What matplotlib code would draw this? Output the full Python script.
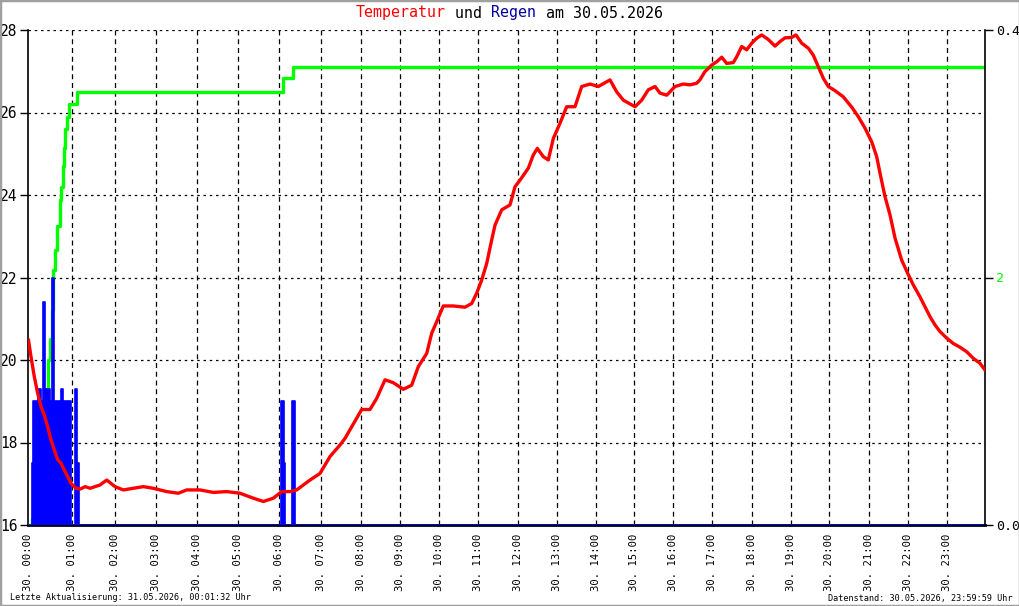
import numpy as np
import matplotlib
matplotlib.use("Agg")
import matplotlib.pyplot as plt
from matplotlib.patches import Rectangle

# temperature (hours, degC)
temp_h = [0.0, 0.057, 0.132, 0.21, 0.285, 0.36, 0.438, 0.514, 0.589, 0.667,
          0.742, 0.817, 0.895, 0.97, 1.087, 1.18, 1.304, 1.415, 1.649, 1.806,
          2.0, 2.204, 2.45, 2.696, 2.942, 3.264, 3.543, 3.745, 4.066, 4.39,
          4.717, 5.041, 5.366, 5.61, 5.854, 6.058, 6.258, 6.42, 6.742, 6.983,
          7.233, 7.483, 7.608, 7.9, 8.025, 8.235, 8.404, 8.614, 8.823, 9.078,
          9.297, 9.469, 9.688, 9.818, 9.948, 10.116, 10.369, 10.664, 10.833, 10.96,
          11.086, 11.213, 11.34, 11.424, 11.594, 11.805, 11.931, 12.059, 12.272, 12.4,
          12.503, 12.656, 12.785, 12.913, 13.085, 13.256, 13.469, 13.554, 13.641, 13.854,
          14.067, 14.37, 14.544, 14.715, 15.018, 15.19, 15.359, 15.531, 15.659, 15.831,
          16.044, 16.256, 16.428, 16.6, 16.682, 16.81, 16.985, 17.112, 17.239, 17.365,
          17.533, 17.619, 17.746, 17.873, 18.0, 18.128, 18.256, 18.426, 18.597, 18.726,
          18.854, 19.026, 19.137, 19.285, 19.456, 19.585, 19.715, 19.845, 19.974, 20.145,
          20.355, 20.569, 20.736, 20.906, 21.077, 21.205, 21.29, 21.418, 21.546, 21.674,
          21.846, 22.0, 22.144, 22.315, 22.444, 22.572, 22.7, 22.828, 23.0, 23.172,
          23.347, 23.522, 23.695, 23.869, 23.99]
temp_c = [20.48, 20.08, 19.6, 19.19, 18.87, 18.67, 18.38, 18.06, 17.82, 17.58,
          17.5, 17.33, 17.17, 17.01, 16.89, 16.87, 16.93, 16.89, 16.97, 17.09,
          16.93, 16.85, 16.89, 16.93, 16.89, 16.81, 16.77, 16.85, 16.85, 16.79,
          16.81, 16.77, 16.65, 16.57, 16.65, 16.81, 16.81, 16.85, 17.09, 17.25,
          17.66, 17.94, 18.10, 18.59, 18.8, 18.8, 19.07, 19.52, 19.45, 19.29,
          19.39, 19.84, 20.16, 20.65, 20.93, 21.31, 21.31, 21.28, 21.37, 21.62,
          21.94, 22.34, 22.91, 23.27, 23.64, 23.76, 24.2, 24.36, 24.65, 24.97,
          25.13, 24.93, 24.85, 25.37, 25.74, 26.14, 26.14, 26.38, 26.63, 26.69,
          26.63, 26.79, 26.5, 26.3, 26.14, 26.3, 26.55, 26.63, 26.47, 26.42,
          26.63, 26.69, 26.67, 26.71, 26.79, 26.99, 27.15, 27.23, 27.34, 27.19,
          27.21, 27.35, 27.6, 27.52, 27.68, 27.8, 27.88, 27.77, 27.61, 27.72,
          27.81, 27.82, 27.88, 27.68, 27.56, 27.39, 27.11, 26.83, 26.63, 26.53,
          26.38, 26.13, 25.9, 25.62, 25.29, 24.93, 24.53, 23.96, 23.52, 22.96,
          22.42, 22.1, 21.82, 21.53, 21.29, 21.05, 20.85, 20.69, 20.53, 20.4,
          20.31, 20.2, 20.04, 19.92, 19.77]

# rain per interval (start minute, mm), held until next entry
rain_min = [0, 4.8, 6.2, 13.4, 17.1, 20.3, 23, 24.5, 26, 29.5, 32.2, 35.3, 44.5,
            47.7, 58.2, 63.8, 66.6, 69.4, 362.5, 366.3, 368.2, 378.4, 382.3, 1440]
rain_mm = [0, 0.05, 0.1, 0.11, 0.1, 0.18, 0.11, 0.1, 0.11, 0.1, 0.2, 0.1, 0.11,
           0.1, 0, 0.11, 0.05, 0, 0.1, 0.05, 0, 0.1, 0, 0]

# rain sum (start minute, mm)
sum_min = [0, 4.8, 10, 15, 20, 24.9, 27.1, 29.5, 31.8, 34.0, 36.3, 39.7, 43.2,
           44.5, 46.8, 48.6, 50.0, 52.3, 55.9, 66.2, 364.9, 379.4, 1440]
sum_mm = [0, 0.05, 0.3, 0.55, 0.8, 1.1, 1.33, 1.5, 1.74, 2.06, 2.22, 2.42, 2.63,
          2.73, 2.9, 3.05, 3.2, 3.3, 3.4, 3.5, 3.61, 3.70, 3.70]

hours = list(range(24))
hour_labels = ["30. %02d:00" % h for h in hours]

# the time axis of the original is not uniform: pixel of each full hour
HOUR_PX = [28.5, 72.3, 115, 155.7, 197.3, 238.3, 279.3, 320.7, 360.7, 400.3,
           438.7, 478.3, 517.7, 556.7, 595.7, 634.3, 673.3, 712.3, 751.7, 790.7,
           829.3, 868.7, 907.7, 946.7, 985]
HOUR_AT = np.arange(25)


def fwd(h):
    return np.interp(h, HOUR_AT, HOUR_PX)


def inv(p):
    return np.interp(p, HOUR_PX, HOUR_AT)


W, H = 1020, 606
plt.rcParams["font.family"] = "DejaVu Sans Mono"

fig = plt.figure(figsize=(W / 100, H / 100), dpi=100)
fig.patches.append(Rectangle((0, 0), 1, 1, transform=fig.transFigure, fill=False,
                             edgecolor="#a0a0a0", lw=2.5))

ax = fig.add_axes([28.5 / W, 1 - 525 / H, (985 - 28.5) / W, (525 - 30) / H])
ax.set_xscale("function", functions=(fwd, inv))
ax.set_xlim(0, 24)
ax.set_ylim(16, 28)

# ticks + grid
ax.set_xticks(hours)
ax.set_xticklabels(hour_labels, rotation=90, fontsize=7.6)
ax.tick_params(axis="x", length=0, pad=6)
ax.set_yticks([16, 18, 20, 22, 24, 26, 28])
ax.tick_params(axis="y", length=6, width=1, pad=2, labelsize=10.5)
for h in hours[1:]:
    ax.axvline(h, color="black", lw=0.9, ls=(0, (4, 3)), zorder=0)
for t in [18, 20, 22, 24, 26, 28]:
    ax.axhline(t, color="black", lw=0.9, ls=(0, (2, 3)), zorder=0)

ax.spines["top"].set_visible(False)
ax.spines["left"].set_linewidth(1.2)
ax.spines["right"].set_visible(False)
ax.spines["bottom"].set_linewidth(2)

# rain sum (green), scale 0..4
ax_sum = ax.twinx()
ax_sum.set_ylim(0, 4)
ax_sum.step(np.array(sum_min) / 60, sum_mm, where="post", color="#00ff00", lw=2.4)
ax_sum.set_yticks([2])
ax_sum.tick_params(axis="y", length=6, width=1, pad=2, labelsize=9.6,
                   labelcolor="#00ff00")
for s in ax_sum.spines.values():
    s.set_visible(False)

# rain per interval (blue), scale 0..0.4
ax_rain = ax.twinx()
ax_rain.set_ylim(0, 0.4)
rt = np.array(rain_min) / 60
ax_rain.fill_between(rt, rain_mm, step="post", color="blue", lw=0)
ax_rain.step(rt, rain_mm, where="post", color="blue", lw=1.2)
ax_rain.set_yticks([0, 0.4])
ax_rain.set_yticklabels(["0.0", "0.4"])
ax_rain.tick_params(axis="y", length=6, width=1, pad=2, labelsize=9.6)
for k in ["top", "left", "bottom"]:
    ax_rain.spines[k].set_visible(False)
ax_rain.spines["right"].set_linewidth(1.2)

# temperature (red) on top
ax_temp = ax.twinx()
ax_temp.set_ylim(16, 28)
ax_temp.plot(temp_h, temp_c, color="red", lw=2.4)
ax_temp.set_yticks([])
for s in ax_temp.spines.values():
    s.set_visible(False)

# title in coloured pieces (monospace, so place by character count)
parts = [("Temperatur", "red"), (" und ", "black"), ("Regen", "#0000a0"),
         (" am 30.05.2026", "black")]
fs = 10.8
cw = fs * 100 / 72 * 0.602
x0 = 356
pos = 0
for txt, col in parts:
    fig.text((x0 + pos * cw) / W, 1 - 13 / H, txt, color=col, fontsize=fs,
             va="center", ha="left")
    pos += len(txt)

# footer
fig.text(10 / W, 1 - 598 / H, "Letzte Aktualisierung: 31.05.2026, 00:01:32 Uhr",
         fontsize=6.1, va="center", ha="left")
fig.text(1013 / W, 1 - 598 / H, "Datenstand: 30.05.2026, 23:59:59 Uhr",
         fontsize=6.1, va="center", ha="right")

fig.savefig("out.png", dpi=100)
